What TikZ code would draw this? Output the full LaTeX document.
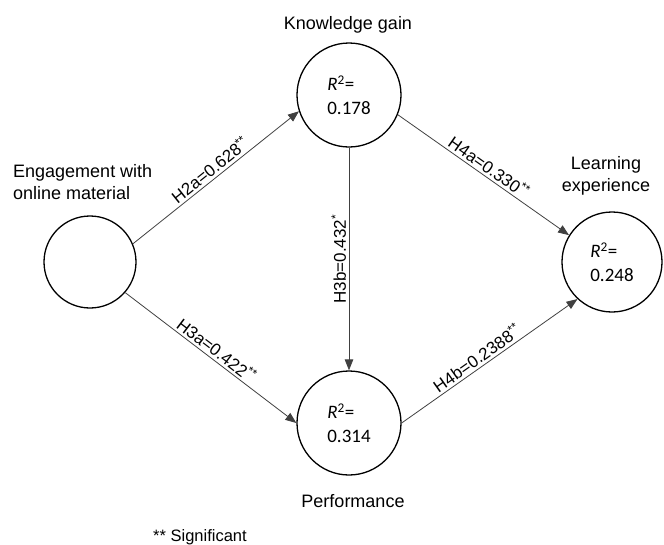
\documentclass[tikz,border=0pt]{standalone}
\usepackage{fontspec}
\setmainfont{Liberation Sans}
\newfontfamily\calibrifont{Carlito}
\usetikzlibrary{arrows.meta}
\tikzset{
  construct/.style={circle, draw=black, line width=1.3pt, inner sep=0pt, align=left,
    font=\calibrifont\fontsize{19}{24}\selectfont},
  namelabel/.style={font=\fontsize{18}{22}\selectfont, inner sep=0pt},
  path/.style={draw=black!75, line width=0.8pt, -{Triangle[length=11pt,width=8.5pt]}},
  coef/.style={font=\fontsize{17}{20}\selectfont, inner sep=2.5pt, text=black},
}
\begin{document}
\begin{tikzpicture}[x=1pt, y=-1pt]
\useasboundingbox (0,0) rectangle (664,544);
\node[construct, minimum size=92pt] (eng) at (90,262) {};
\node[construct, minimum size=104pt] (kg) at (349,95) {\textit{R}\textsuperscript{2}=\\0.178};
\node[construct, minimum size=104pt] (perf) at (349,423) {\textit{R}\textsuperscript{2}=\\0.314};
\node[construct, minimum size=100pt] (lx) at (612,262) {\textit{R}\textsuperscript{2}=\\0.248};

\node[namelabel] (kgl) at (348,25) {Knowledge gain};
\node[namelabel, align=left, anchor=west] (engl) at (13,182) {Engagement with\\online material};
\node[namelabel, align=center] (lxl) at (606,176) {Learning\\experience};
\node[namelabel] (perfl) at (353,501) {Performance};
\node[font=\fontsize{16.5}{20}\selectfont, inner sep=0pt, anchor=west] (sig) at (153,537) {** Significant};

\draw[path] (eng.23) -- node[coef, midway, sloped, above] {H2a=0.628\textsuperscript{**}} (kg.198);
\draw[path] (eng.-41) -- node[coef, midway, sloped, above] {H3a=0.422\textsuperscript{**}} (perf.180);
\draw[path] (kg.-22) -- node[coef, midway, sloped, above] {H4a=0.330\textsuperscript{**}} (lx.148);
\draw[path] (perf.0) -- node[coef, pos=0.46, sloped, above] {H4b=0.2388\textsuperscript{**}} (lx.227);
\draw[path] (kg.south) -- node[coef, midway, rotate=90, anchor=south] {H3b=0.432\textsuperscript{*}} (perf.north);
\end{tikzpicture}
\end{document}
